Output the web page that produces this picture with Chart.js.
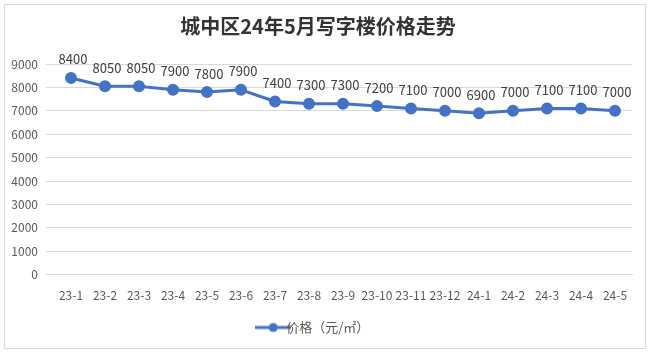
<!DOCTYPE html>
<html>
<head>
<meta charset="utf-8">
<script src="https://cdn.jsdelivr.net/npm/chart.js@4"></script>
<style>
  body { margin: 0; background: #fff; }
  #wrap { width: 650px; height: 354px; }
</style>
</head>
<body>
<div id="wrap"><canvas id="priceChart" width="650" height="354"></canvas></div>
<script>
const months = ['23-1', '23-2', '23-3', '23-4', '23-5', '23-6', '23-7', '23-8', '23-9', '23-10', '23-11', '23-12', '24-1', '24-2', '24-3', '24-4', '24-5'];
const prices = [8400, 8050, 8050, 7900, 7800, 7900, 7400, 7300, 7300, 7200, 7100, 7000, 6900, 7000, 7100, 7100, 7000];
const seriesName = '价格（元/㎡）';
const chartTitle = '城中区24年5月写字楼价格走势';

const blue = '#4472C4';
const fontFamily = '"Noto Sans CJK SC", "Noto Sans", sans-serif';

// legend marker: line with a dot, like the office chart
const marker = document.createElement('canvas');
marker.width = 36; marker.height = 12;
const mctx = marker.getContext('2d');
mctx.strokeStyle = blue; mctx.lineWidth = 3;
mctx.beginPath(); mctx.moveTo(0, 6); mctx.lineTo(36, 6); mctx.stroke();
mctx.fillStyle = blue;
mctx.beginPath(); mctx.arc(18, 6, 4.5, 0, Math.PI * 2); mctx.fill();

const frame = {
    id: 'frame',
    beforeDraw(chart) {
        const c = chart.ctx;
        c.save();
        c.fillStyle = '#fff';
        c.fillRect(0, 0, chart.width, chart.height);
        c.strokeStyle = '#d9d9d9';
        c.lineWidth = 1;
        c.strokeRect(4.5, 4.5, 641, 344);
        c.restore();
    }
};

const valueLabels = {
    id: 'valueLabels',
    afterDatasetsDraw(chart) {
        const c = chart.ctx;
        const meta = chart.getDatasetMeta(0);
        c.save();
        c.font = '13px ' + fontFamily;
        c.fillStyle = '#404040';
        c.textAlign = 'center';
        c.textBaseline = 'bottom';
        meta.data.forEach((pt, i) => {
            c.fillText(prices[i], pt.x + 2, pt.y - 12);
        });
        c.restore();
    }
};

const ctx = document.getElementById('priceChart').getContext('2d');

const config = {
    type: 'line',
    data: {
        labels: months,
        datasets: [{
            label: seriesName,
            data: prices,
            borderColor: blue,
            backgroundColor: blue,
            borderWidth: 3,
            pointRadius: 4.5,
            pointBackgroundColor: blue,
            pointBorderColor: blue,
            tension: 0
        }]
    },
    options: {
        responsive: false,
        animation: false,
        layout: { padding: { left: 4, right: 18, top: 8, bottom: 10 } },
        plugins: {
            title: {
                display: true,
                text: chartTitle,
                color: '#333',
                font: { family: fontFamily, size: 20, weight: 'bold' },
                padding: { top: 6, bottom: 26 }
            },
            legend: {
                position: 'bottom',
                labels: {
                    usePointStyle: true,
                    pointStyle: marker,
                    color: '#595959',
                    font: { family: fontFamily, size: 13 },
                    padding: 12
                }
            },
            tooltip: { enabled: false }
        },
        scales: {
            x: {
                offset: true,
                grid: { display: false },
                border: { color: '#d9d9d9' },
                ticks: {
                    color: '#595959',
                    font: { family: fontFamily, size: 12 },
                    maxRotation: 0,
                    autoSkip: false,
                    padding: 6
                }
            },
            y: {
                min: 0,
                max: 9000,
                afterFit(scale) { scale.width = 50; },
                grid: { color: '#d9d9d9' },
                border: { display: false },
                ticks: {
                    stepSize: 1000,
                    color: '#595959',
                    font: { family: fontFamily, size: 12 },
                    padding: 8,
                    callback: v => String(v)
                }
            }
        }
    },
    plugins: [frame, valueLabels]
};

const priceChart = new Chart(ctx, config);
</script>
</body>
</html>
